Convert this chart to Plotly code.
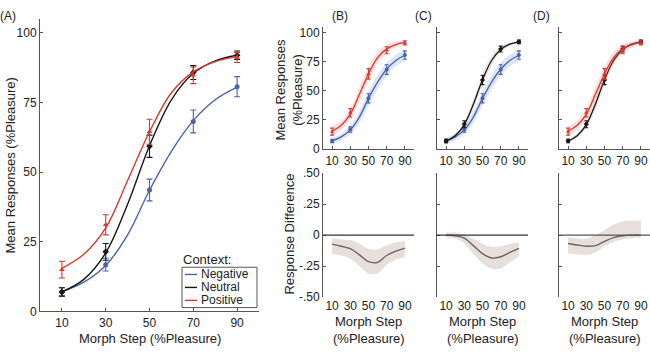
import plotly.graph_objects as go

# ---------------- data ----------------
STEPS = [10, 30, 50, 70, 90]
TICK_LABELS_X = ["10", "30", "50", "70", "90"]

neg_mean = [7, 16.8, 43.6, 68.2, 80.7]
neg_err = [1.5, 2.3, 3.9, 4.1, 3.6]
neu_mean = [7, 21.4, 59.3, 85.8, 92]
neu_err = [1.5, 3, 4, 2.5, 1.5]
pos_mean = [15, 31.1, 64.5, 84.8, 91.2]
pos_err = [3, 3.6, 4.5, 3, 1.8]

CURVE_X = [10, 20, 30, 40, 50, 60, 70, 80, 90]
neg_fit = [7, 10.5, 16.5, 27.5, 43.5, 57.5, 68.5, 76, 80.5]
neu_fit = [7, 11.5, 21, 38.5, 59.5, 76, 85.5, 90, 92]
pos_fit = [15.5, 20.5, 30, 47, 64.5, 78.5, 86, 89.7, 91.5]

neg_lo = [4.5, 7.5, 13, 22.5, 37.5, 51.5, 63, 71, 75.5]
neg_hi = [9.5, 13.5, 20, 32.5, 49.5, 63.5, 74, 81, 85.5]
neu_lo = [5.5, 9.5, 18, 34, 54.5, 72, 83, 88.5, 91]
neu_hi = [8.5, 13.5, 24, 43, 64.5, 80, 88, 91.5, 93]
pos_lo = [11.5, 16.5, 25.5, 41, 58.5, 73.5, 82.5, 87.2, 89.5]
pos_hi = [19.5, 24.5, 34.5, 53, 70.5, 83.5, 89.5, 92.2, 93.5]

# response differences (B: Pos-Neg, C: Neu-Neg, D: Pos-Neu)
diffB = [-0.073, -0.09, -0.11, -0.16, -0.215, -0.22, -0.165, -0.13, -0.105]
diffB_lo = [-0.15, -0.165, -0.19, -0.25, -0.31, -0.31, -0.24, -0.2, -0.177]
diffB_hi = [-0.03, -0.035, -0.04, -0.07, -0.11, -0.115, -0.085, -0.06, -0.047]
diffC = [0.0, -0.005, -0.025, -0.085, -0.15, -0.185, -0.175, -0.14, -0.107]
diffC_lo = [-0.02, -0.03, -0.065, -0.15, -0.23, -0.27, -0.27, -0.22, -0.17]
diffC_hi = [0.02, 0.02, 0.005, -0.03, -0.07, -0.095, -0.09, -0.07, -0.06]
diffD = [-0.068, -0.08, -0.09, -0.085, -0.05, -0.02, -0.005, 0.0, 0.0]
diffD_lo = [-0.146, -0.155, -0.16, -0.14, -0.09, -0.055, -0.035, -0.025, -0.02]
diffD_hi = [-0.016, -0.025, -0.03, 0.0, 0.04, 0.085, 0.11, 0.115, 0.115]

DIFF_TICKS = [-0.5, -0.25, 0, 0.25, 0.5]
DIFF_TICK_LABELS = ["-.50", "-.25", "0", ".25", ".50"]
RESP_TICKS = [0, 25, 50, 75, 100]

LEGEND_LABELS = ["Negative", "Neutral", "Positive"]

# ---------------- styles ----------------
W, H = 650, 353
FONT = "Arial, Liberation Sans, sans-serif"
TXT = "#222222"
AX = "#555555"
BLUE = "#4a62aa"
BLACK = "#161616"
RED = "#d8392c"
BAND = {"neg": "rgba(110,150,215,0.25)", "neu": "rgba(150,115,100,0.18)",
        "pos": "rgba(230,100,95,0.22)"}
DIFF_LINE = "#6e6262"
DIFF_BAND = "rgba(200,185,178,0.45)"


def fx(p):
    return p / W


def fy(p):
    return 1 - p / H


series = {
    "neg": dict(mean=neg_mean, err=neg_err, fit=neg_fit, lo=neg_lo, hi=neg_hi,
                color=BLUE, symbol="circle"),
    "neu": dict(mean=neu_mean, err=neu_err, fit=neu_fit, lo=neu_lo, hi=neu_hi,
                color=BLACK, symbol="diamond"),
    "pos": dict(mean=pos_mean, err=pos_err, fit=pos_fit, lo=pos_lo, hi=pos_hi,
                color=RED, symbol="triangle-up"),
}

fig = go.Figure()


def add_series(key, xa, ya, small, band):
    s = series[key]
    if band:
        fig.add_trace(go.Scatter(x=CURVE_X, y=s["lo"], mode="lines", line=dict(width=0, shape="spline"),
                                 xaxis=xa, yaxis=ya, showlegend=False, hoverinfo="skip"))
        fig.add_trace(go.Scatter(x=CURVE_X, y=s["hi"], mode="lines", line=dict(width=0, shape="spline"),
                                 fill="tonexty", fillcolor=BAND[key],
                                 xaxis=xa, yaxis=ya, showlegend=False, hoverinfo="skip"))
    fig.add_trace(go.Scatter(x=CURVE_X, y=s["fit"], mode="lines",
                             line=dict(color=s["color"], width=1.4 if not small else 1.3, shape="spline"),
                             xaxis=xa, yaxis=ya, showlegend=False))
    fig.add_trace(go.Scatter(x=STEPS, y=s["mean"], mode="markers",
                             marker=dict(color=s["color"], symbol=s["symbol"], size=4 if small else 5),
                             error_y=dict(type="data", array=s["err"], color=s["color"],
                                          thickness=1.1, width=2 if small else 3),
                             xaxis=xa, yaxis=ya, showlegend=False))


# Panel A
for k in ["neg", "neu", "pos"]:
    add_series(k, "x", "y", False, False)
# Panels B, C, D top
for k in ["neg", "pos"]:
    add_series(k, "x2", "y2", True, True)
for k in ["neg", "neu"]:
    add_series(k, "x3", "y3", True, True)
for k in ["neu", "pos"]:
    add_series(k, "x4", "y4", True, True)

# Difference panels
for xa, ya, d, lo, hi in [("x5", "y5", diffB, diffB_lo, diffB_hi),
                          ("x6", "y6", diffC, diffC_lo, diffC_hi),
                          ("x7", "y7", diffD, diffD_lo, diffD_hi)]:
    fig.add_trace(go.Scatter(x=CURVE_X, y=lo, mode="lines", line=dict(width=0, shape="spline"),
                             xaxis=xa, yaxis=ya, showlegend=False, hoverinfo="skip"))
    fig.add_trace(go.Scatter(x=CURVE_X, y=hi, mode="lines", line=dict(width=0, shape="spline"),
                             fill="tonexty", fillcolor=DIFF_BAND,
                             xaxis=xa, yaxis=ya, showlegend=False, hoverinfo="skip"))
    fig.add_trace(go.Scatter(x=CURVE_X, y=d, mode="lines",
                             line=dict(color=DIFF_LINE, width=1.4, shape="spline"),
                             xaxis=xa, yaxis=ya, showlegend=False))

axis_common = dict(showline=True, linecolor=AX, linewidth=1, ticks="inside", ticklen=3,
                   tickcolor=AX, showgrid=False, zeroline=False,
                   tickfont=dict(family=FONT, size=12, color=TXT))

layout = dict(
    width=W, height=H, margin=dict(l=0, r=0, t=0, b=0),
    paper_bgcolor="white", plot_bgcolor="white", showlegend=False,
    font=dict(family=FONT, color=TXT),
)

layout["xaxis"] = dict(axis_common, domain=[fx(40), fx(259)], range=[0, 100],
                       tickvals=STEPS, ticktext=TICK_LABELS_X, anchor="y")
layout["yaxis"] = dict(axis_common, domain=[fy(317), fy(12.5)], range=[0, 105],
                       tickvals=RESP_TICKS, anchor="x")

cols = {"B": (323, 414), "C": (437, 528), "D": (559, 650)}
for i, (name, (l, r)) in enumerate(cols.items()):
    top_n = i + 2
    bot_n = i + 5
    layout[f"xaxis{top_n}"] = dict(axis_common, domain=[fx(l), fx(r)], range=[0, 100],
                                   tickvals=STEPS, ticktext=TICK_LABELS_X, anchor=f"y{top_n}")
    layout[f"yaxis{top_n}"] = dict(axis_common, domain=[fy(148), fy(20.5)], range=[0, 105],
                                   tickvals=RESP_TICKS, anchor=f"x{top_n}",
                                   showticklabels=(name == "B"))
    layout[f"xaxis{bot_n}"] = dict(axis_common, domain=[fx(l), fx(r)], range=[0, 100],
                                   tickvals=STEPS, ticktext=TICK_LABELS_X, anchor=f"y{bot_n}",
                                   showline=False, ticks="")
    layout[f"yaxis{bot_n}"] = dict(axis_common, domain=[fy(302), fy(173)], range=[-0.5, 0.5],
                                   tickvals=DIFF_TICKS, ticktext=DIFF_TICK_LABELS,
                                   anchor=f"x{bot_n}", showticklabels=(name == "B"))

fig.update_layout(**layout)

# zero reference lines in the difference panels
for n, col in [(5, "#333333"), (6, "#333333"), (7, "#555555")]:
    fig.add_shape(type="line", xref=f"x{n} domain", yref=f"y{n}", x0=0, x1=1, y0=0, y1=0,
                  line=dict(color=col, width=1.2), layer="above")


def ann(text, x, y, size=13, angle=0, xanchor="center"):
    fig.add_annotation(text=text, x=fx(x), y=fy(y), xref="paper", yref="paper",
                       showarrow=False, textangle=angle, xanchor=xanchor, yanchor="middle",
                       borderpad=0, font=dict(family=FONT, size=size, color=TXT))


# panel letters
ann("(A)", 8, 9, 12)
ann("(B)", 340, 9, 12)
ann("(C)", 424, 9, 12)
ann("(D)", 541, 9, 12)

# axis titles
ann("Mean Responses (%Pleasure)", 10, 165, 13, -90)
ann("Morph Step (%Pleasure)", 150, 345, 13)
ann("Mean Responses<br>(%Pleasure)", 289, 86, 13, -90)
ann("Response Difference", 290, 237, 13, -90)
for l, r in cols.values():
    c = (l + r) / 2
    ann("Morph Step", c, 327, 13)
    ann("(%Pleasure)", c, 345, 13)

# legend (drawn manually to mirror the reference layout)
ann("Context:", 182, 263, 13, xanchor="left")
fig.add_shape(type="rect", xref="paper", yref="paper", x0=fx(182), x1=fx(257), y0=fy(313), y1=fy(271),
              line=dict(color=AX, width=1), fillcolor="white", layer="above")
for label, colr, yy in zip(LEGEND_LABELS, [BLUE, BLACK, RED], [278.5, 292, 305.5]):
    fig.add_shape(type="line", xref="paper", yref="paper", x0=fx(185), x1=fx(197), y0=fy(yy), y1=fy(yy),
                  line=dict(color=colr, width=1.4), layer="above")
    ann(label, 200, yy, 12, xanchor="left")

fig.write_html("out.html")
